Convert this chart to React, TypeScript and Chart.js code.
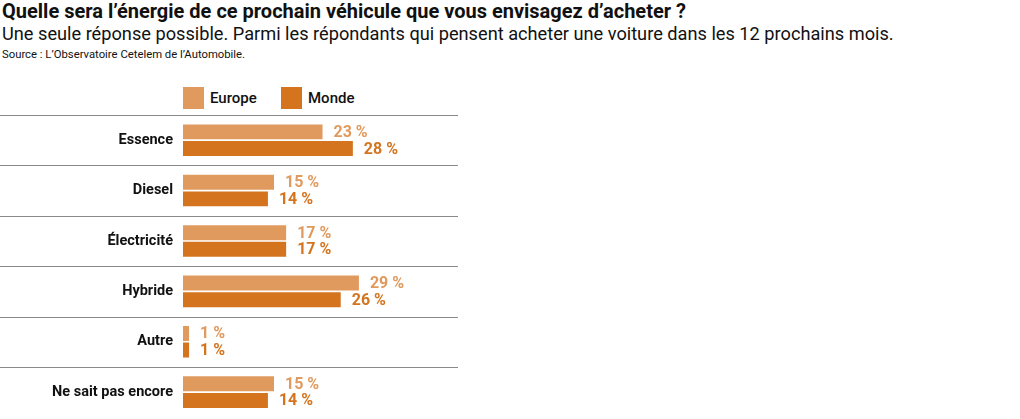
import React, { useEffect, useRef } from 'react';
import { Chart, registerables } from 'chart.js';

Chart.register(...registerables);

const categories = ['Essence', 'Diesel', 'Électricité', 'Hybride', 'Autre', 'Ne sait pas encore'];
const europeValues = [23, 15, 17, 29, 1, 15];
const mondeValues = [28, 14, 17, 26, 1, 14];
const seriesNames = ['Europe', 'Monde'];
const seriesColors = ['#E19A5E', '#D4741E'];
const xMax = 45;

const TITLE = 'Quelle sera l’énergie de ce prochain véhicule que vous envisagez d’acheter ?';
const SUBTITLE = 'Une seule réponse possible. Parmi les répondants qui pensent acheter une voiture dans les 12 prochains mois.';
const SOURCE = 'Source : L’Observatoire Cetelem de l’Automobile.';

const FONT = 'Roboto, "Noto Sans", sans-serif';

const separatorPlugin = {
  id: 'separators',
  beforeDatasetsDraw(chart: any) {
    const { ctx, chartArea } = chart;
    const y = chart.scales.y;
    const n = categories.length;
    const band = (chartArea.bottom - chartArea.top) / n;
    ctx.save();
    ctx.strokeStyle = '#8a8a8a';
    ctx.lineWidth = 1.2;
    for (let i = 0; i < n; i++) {
      const py = Math.round(y.getPixelForValue(i) - band / 2) + 0.5;
      ctx.beginPath();
      ctx.moveTo(0, py);
      ctx.lineTo(chartArea.right + 2, py);
      ctx.stroke();
    }
    ctx.restore();
  },
};

const valueLabelPlugin = {
  id: 'valueLabels',
  afterDatasetsDraw(chart: any) {
    const { ctx } = chart;
    ctx.save();
    ctx.font = `bold 16px ${FONT}`;
    ctx.textAlign = 'left';
    ctx.textBaseline = 'middle';
    chart.data.datasets.forEach((ds: any, di: number) => {
      const meta = chart.getDatasetMeta(di);
      ctx.fillStyle = ds.backgroundColor;
      meta.data.forEach((bar: any, i: number) => {
        ctx.fillText(`${ds.data[i]} %`, bar.x + 11, bar.y + 1);
      });
    });
    ctx.restore();
  },
};

export default function App() {
  const canvasRef = useRef<HTMLCanvasElement>(null);

  useEffect(() => {
    if (!canvasRef.current) return;
    const chart = new Chart(canvasRef.current, {
      type: 'bar',
      data: {
        labels: categories,
        datasets: [
          {
            label: seriesNames[0],
            data: europeValues,
            backgroundColor: seriesColors[0],
            categoryPercentage: 0.66,
            barPercentage: 0.9,
          },
          {
            label: seriesNames[1],
            data: mondeValues,
            backgroundColor: seriesColors[1],
            categoryPercentage: 0.66,
            barPercentage: 0.9,
          },
        ],
      },
      options: {
        indexAxis: 'y',
        animation: false,
        responsive: false,
        devicePixelRatio: 1,
        layout: { padding: { top: 35, right: 14, bottom: 0, left: 0 } },
        plugins: {
          legend: { display: false },
          tooltip: { enabled: false },
        },
        scales: {
          x: { display: false, min: 0, max: xMax },
          y: {
            grid: { display: false, drawTicks: false },
            border: { display: false },
            ticks: {
              color: '#111',
              padding: 10,
              font: { family: FONT, size: 14.5, weight: 'bold' },
            },
            afterFit(scale: any) {
              scale.width = 183;
            },
          },
        },
      },
      plugins: [separatorPlugin, valueLabelPlugin],
    });
    return () => chart.destroy();
  }, []);

  const legendItem = (i: number, left: number) => (
    <div key={i} style={{ position: 'absolute', left, top: 87, height: 22, display: 'flex', alignItems: 'center' }}>
      <div style={{ width: 21, height: 22, background: seriesColors[i] }} />
      <span style={{ marginLeft: 6, fontSize: 15, color: '#111', fontWeight: 500 }}>{seriesNames[i]}</span>
    </div>
  );

  return (
    <div style={{ position: 'absolute', left: 0, top: 0, width: 1020, height: 419, background: '#fff', fontFamily: FONT, overflow: 'hidden' }}>
      <div style={{ position: 'absolute', left: 2, top: -1, fontSize: 20, fontWeight: 700, color: '#111', whiteSpace: 'nowrap', lineHeight: '24px' }}>{TITLE}</div>
      <div style={{ position: 'absolute', left: 2, top: 23, fontSize: 18.2, fontWeight: 400, color: '#111', whiteSpace: 'nowrap', lineHeight: '22px' }}>{SUBTITLE}</div>
      <div style={{ position: 'absolute', left: 2, top: 47, fontSize: 11.3, fontWeight: 400, color: '#111', whiteSpace: 'nowrap', lineHeight: '16px' }}>{SOURCE}</div>
      {legendItem(0, 183)}
      {legendItem(1, 281)}
      <canvas ref={canvasRef} width={470} height={356} style={{ position: 'absolute', left: 0, top: 80, width: 470, height: 356 }} />
    </div>
  );
}
